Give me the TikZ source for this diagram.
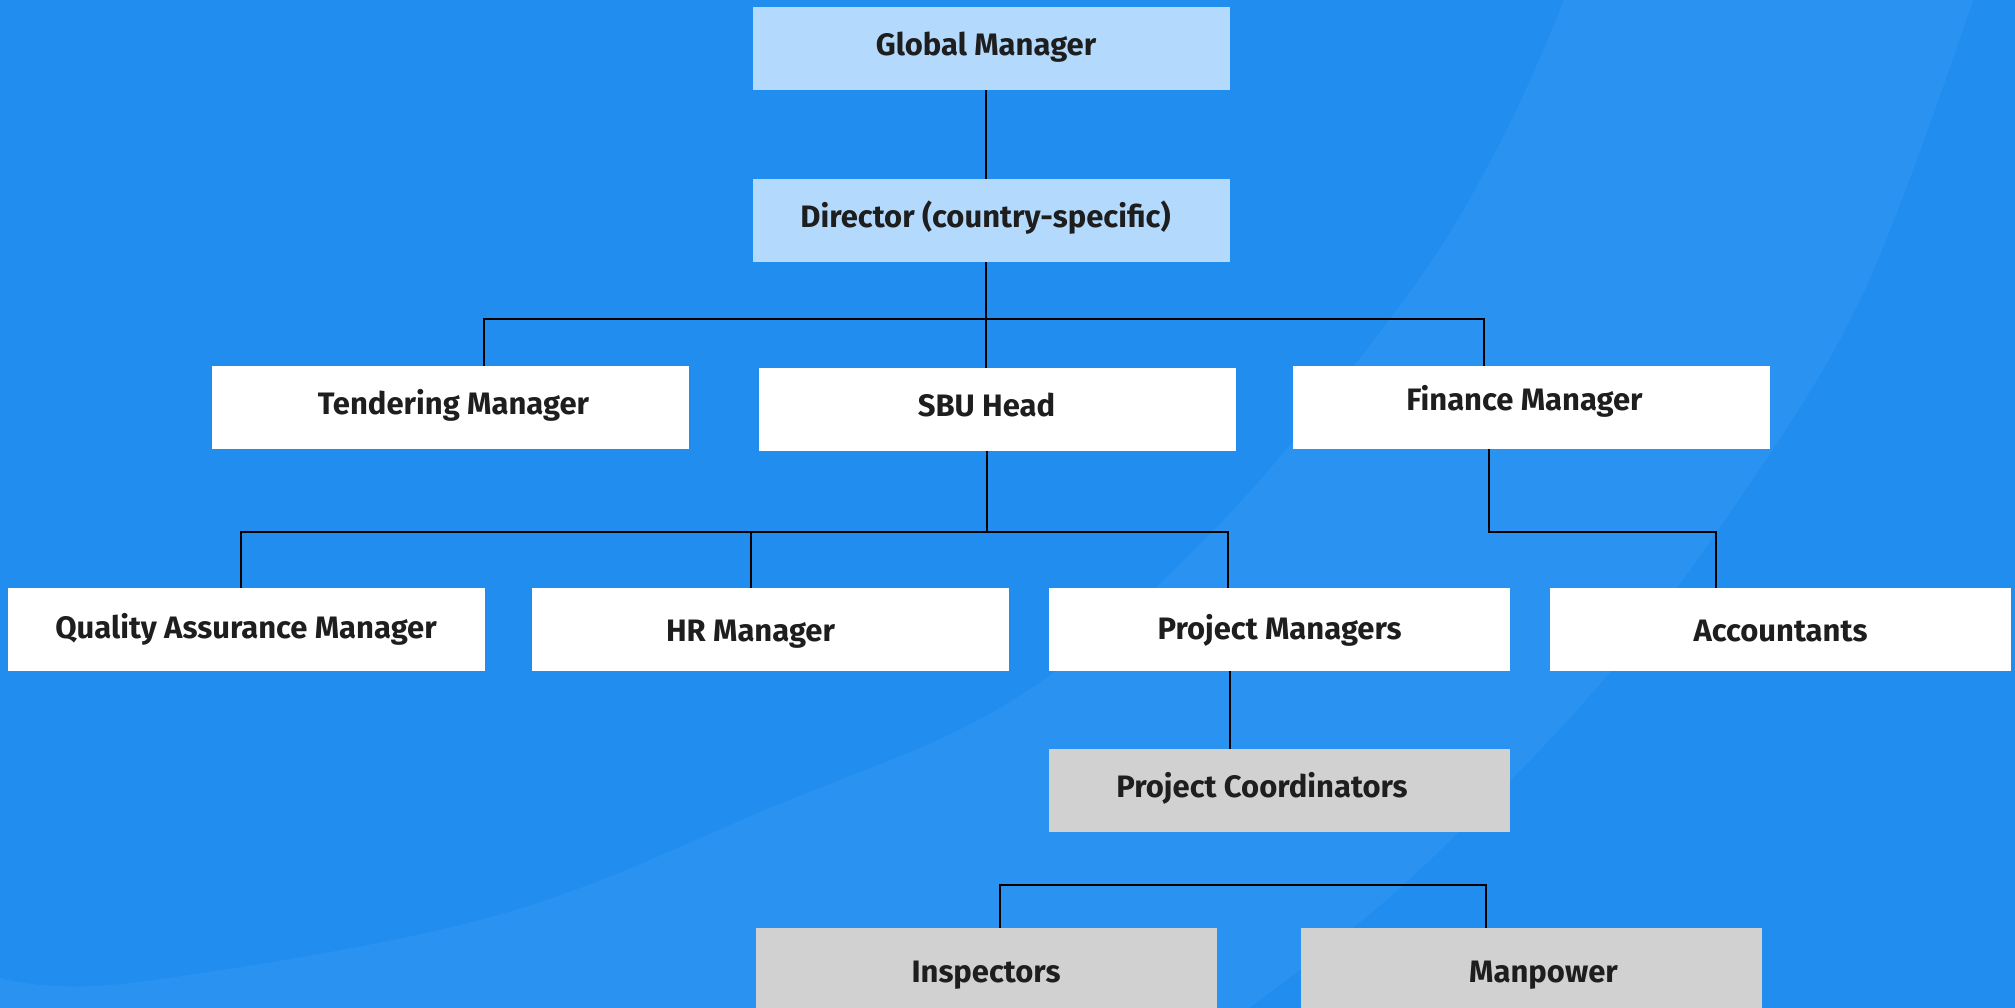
\documentclass[tikz,border=0pt]{standalone}
\usepackage{fontspec}
\setmainfont{Fira Sans}
\definecolor{bgblue}{HTML}{208DEF}
\definecolor{bandblue}{HTML}{2A93F1}
\definecolor{lightbox}{HTML}{B3DAFD}
\definecolor{greybox}{HTML}{D1D1D1}
\definecolor{inkc}{HTML}{1E1E1E}
\newcommand{\tsh}[3]{\hspace*{#1}\raisebox{#2}{#3}}
\begin{document}
\begin{tikzpicture}[x=1pt,y=-1pt,
  box/.style={rectangle, draw=none, inner sep=0pt, minimum height=83pt,
    text height=21.7pt, text depth=7.2pt, text=inkc,
    font=\fontsize{31}{37}\selectfont\bfseries},
  topbox/.style={box, fill=lightbox, minimum width=477pt},
  wbox/.style={box, fill=white, minimum width=477pt},
  wboxn/.style={box, fill=white, minimum width=461pt},
  gbox/.style={box, fill=greybox, minimum width=461pt},
  conn/.style={draw=black, line width=2pt}]
\path[use as bounding box, clip] (0,0) rectangle (2015,1008);
\fill[bgblue] (0,0) rectangle (2015,1008);
\fill[bandblue] plot[smooth, tension=0.6] coordinates {(1973,0) (1860,300) (1718,530) (1586,700) (1401,887) (1249,1008)}
  -- (0,1008) -- plot[smooth, tension=0.6] coordinates {(0,978) (130,983) (491,917) (772,807) (1013,700) (1214,530) (1404,300) (1500,143) (1564,0)} -- cycle;

% boxes
\node[topbox] (gm)   at (991.5,48.5)  {\tsh{-11pt}{0pt}{Global Manager}};
\node[topbox] (dir)  at (991.5,220.5) {\tsh{-12pt}{0pt}{Director (country-specific)}};
\node[wbox]   (tend) at (450.5,407.5) {\tsh{6pt}{0pt}{Tendering Manager}};
\node[wbox]   (sbu)  at (997.5,409.5) {\tsh{-22pt}{0pt}{SBU Head}};
\node[wbox]   (fin)  at (1531.5,407.5){\tsh{-14pt}{4pt}{Finance Manager}};
\node[wbox]   (qa)   at (246,629.5)   {\tsh{0pt}{-2pt}{Quality Assurance Manager}};
\node[wbox]   (hr)   at (770.5,629.5) {\tsh{-40pt}{-5pt}{HR Manager}};
\node[wboxn]  (pm)   at (1279.5,629.5){\tsh{0pt}{-3pt}{Project Managers}};
\node[wboxn]  (acc)  at (1780.5,629.5){\tsh{0pt}{-5pt}{Accountants}};
\node[gbox]   (pc)   at (1279.5,790.5){\tsh{-35pt}{0pt}{Project Coordinators}};
\node[gbox]   (insp) at (986,969.5)   {\tsh{0pt}{-6pt}{Inspectors}};
\node[gbox]   (man)  at (1531.5,969.5){\tsh{24pt}{-6pt}{Manpower}};

% junctions
\coordinate (j1) at (986,319);
\coordinate (j2) at (987,531.5);
\coordinate (j3) at (1600,532);
\coordinate (j4) at (1240,884.5);

% connectors
\draw[conn] (gm.south -| j1) -- (dir.north -| j1);
\draw[conn] (dir.south -| j1) -- (sbu.north -| j1);
\draw[conn] ([xshift=33pt]tend.north) |- (j1) -| ([xshift=-47.5pt]fin.north);
\draw[conn] (sbu.south -| j2) -- (j2);
\draw[conn] ([xshift=-5.4pt]qa.north) |- (j2) -| ([xshift=-51.5pt]pm.north);
\draw[conn] ([xshift=-20pt]hr.north) -- ([xshift=-20pt]hr.north |- j2);
\draw[conn] ([xshift=-43pt]fin.south) |- (j3) -| ([xshift=-64.5pt]acc.north);
\draw[conn] ([xshift=-50pt]pm.south) -- ([xshift=-50pt]pc.north);
\draw[conn] ([xshift=14pt]insp.north) |- (j4) -| ([xshift=-46pt]man.north);
\end{tikzpicture}
\end{document}
